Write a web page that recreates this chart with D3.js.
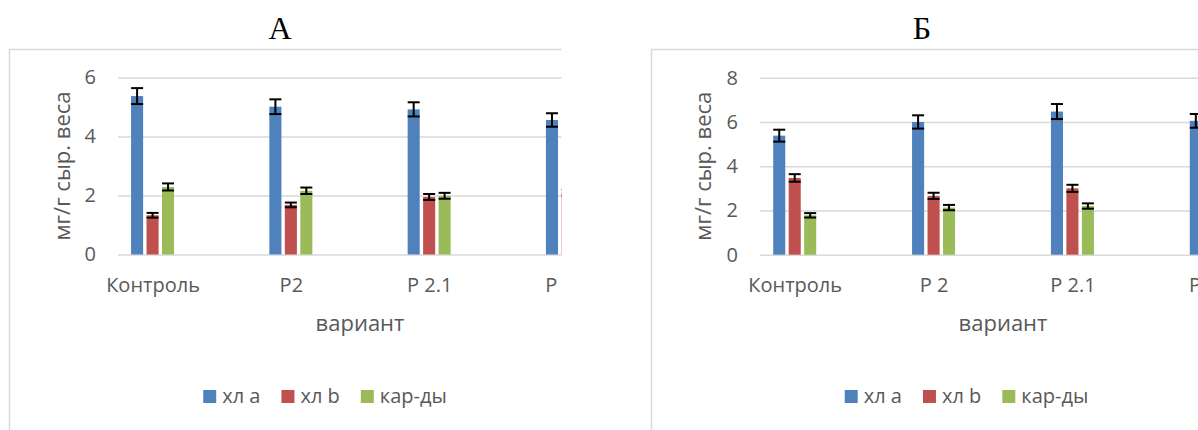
<!DOCTYPE html>
<html lang="ru">
<head>
<meta charset="UTF-8">
<title>Пигменты</title>
<script src="https://d3js.org/d3.v7.min.js"></script>
<style>
  body { margin: 0; background: #fff; }
  svg { display: block; }
  text { font-family: "Open Sans", "Noto Sans", sans-serif; fill: #595959; }
</style>
</head>
<body>
<svg id="chart" width="1198" height="430"></svg>
<script>
// categories (the 4th one is cut off by the picture edge)
const categories = ["Контроль", "P2", "P 2.1", "P 2.2"];
const categoriesB = ["Контроль", "P 2", "P 2.1", "P 2.2"];
const seriesNames = ["хл a", "хл b", "кар-ды"];
const seriesColors = ["#4f81bd", "#c0504d", "#9bbb59"];

// panel А, мг/г сыр. веса
const aChlA = [5.37, 5.01, 4.92, 4.56];
const aChlAErr = [0.27, 0.25, 0.24, 0.23];
const aChlB = [1.33, 1.68, 1.95, 2.10];
const aChlBErr = [0.08, 0.08, 0.10, 0.10];
const aCar = [2.29, 2.16, 1.99, 2.00];
const aCarErr = [0.12, 0.11, 0.10, 0.10];
const aTicks = [0, 2, 4, 6];

// panel Б
const bChlA = [5.38, 6.00, 6.47, 6.05];
const bChlAErr = [0.27, 0.30, 0.34, 0.31];
const bChlB = [3.47, 2.66, 3.00, 2.80];
const bChlBErr = [0.17, 0.14, 0.16, 0.15];
const bCar = [1.78, 2.13, 2.20, 2.20];
const bCarErr = [0.10, 0.12, 0.12, 0.12];
const bTicks = [0, 2, 4, 6, 8];

const svg = d3.select("#chart");

function drawPanel(p) {
  const g = svg.append("g");
  if (p.clip) {
    svg.append("clipPath").attr("id", p.id + "-clip")
      .append("rect").attr("x", 0).attr("y", 0).attr("width", p.clip).attr("height", 430);
    g.attr("clip-path", `url(#${p.id}-clip)`);
  }

  // chart frame
  g.append("rect")
    .attr("x", p.frameLeft + 0.5).attr("y", 49.5)
    .attr("width", p.frameRight - p.frameLeft).attr("height", 420)
    .attr("fill", "#fff").attr("stroke", "#d9d9d9").attr("stroke-width", 1.5);

  const plotW = p.plotRight - p.plotLeft;
  const y = d3.scaleLinear().domain([0, d3.max(p.ticks)]).range([p.y0, p.yTop]);

  // 7 slots, every second one empty -> point scale with padding 0.25
  const x = d3.scalePoint().domain(p.cats).range([p.plotLeft, p.plotRight]).padding(0.25);
  const x1 = d3.scaleBand().domain(seriesNames).range([-21.5, 21.5]).paddingInner(0.22);

  const yAxis = g.append("g")
    .attr("transform", `translate(${p.plotLeft},0)`)
    .call(d3.axisLeft(y).tickValues(p.ticks).tickFormat(d3.format("d")).tickSize(-plotW).tickPadding(22));
  yAxis.select(".domain").remove();
  yAxis.selectAll(".tick line").attr("stroke", "#d9d9d9").attr("stroke-width", 1.5);
  yAxis.selectAll(".tick text").attr("font-size", 20).attr("fill", "#595959");
  yAxis.attr("font-family", null).attr("font-size", null);

  const xAxis = g.append("g")
    .attr("transform", `translate(0,${p.y0})`)
    .call(d3.axisBottom(x).tickSize(0).tickPadding(23));
  xAxis.select(".domain").remove();
  xAxis.selectAll(".tick text").attr("font-size", 20).attr("fill", "#595959");
  xAxis.attr("font-family", null).attr("font-size", null);

  const rows = [];
  p.series.forEach((s, si) => {
    s.values.forEach((v, ci) => {
      rows.push({ cat: p.cats[ci], name: seriesNames[si], color: seriesColors[si], v: v, e: s.err[ci] });
    });
  });

  g.append("g").selectAll("rect").data(rows).join("rect")
    .attr("x", d => x(d.cat) + x1(d.name))
    .attr("y", d => y(d.v))
    .attr("width", x1.bandwidth())
    .attr("height", d => y(0) - y(d.v))
    .attr("fill", d => d.color);

  const err = g.append("g").attr("stroke", "#000").attr("stroke-width", 2);
  const eg = err.selectAll("g").data(rows).join("g")
    .attr("transform", d => `translate(${x(d.cat) + x1(d.name) + x1.bandwidth() / 2},0)`);
  eg.append("line").attr("y1", d => y(d.v - d.e)).attr("y2", d => y(d.v + d.e));
  eg.append("line").attr("x1", -6).attr("x2", 6).attr("y1", d => y(d.v + d.e)).attr("y2", d => y(d.v + d.e));
  eg.append("line").attr("x1", -6).attr("x2", 6).attr("y1", d => y(d.v - d.e)).attr("y2", d => y(d.v - d.e));

  // axis titles
  g.append("text")
    .attr("transform", `translate(${p.yTitleX},${(p.y0 + p.yTop) / 2}) rotate(-90)`)
    .attr("text-anchor", "middle").attr("font-size", 22)
    .text("мг/г сыр. веса");
  g.append("text")
    .attr("x", (p.plotLeft + p.plotRight) / 2).attr("y", 331)
    .attr("text-anchor", "middle").attr("font-size", 22)
    .text("вариант");

  // panel letter
  svg.append("text")
    .attr("x", p.titleX).attr("y", 39)
    .attr("text-anchor", "middle")
    .style("font-family", "'Liberation Serif', 'Times New Roman', serif")
    .style("fill", "#000").attr("font-size", 32)
    .text(p.title);

  // legend, centred on the frame
  const leg = g.append("g");
  const items = leg.selectAll("g").data(seriesNames).join("g");
  items.append("rect").attr("width", 13).attr("height", 13).attr("y", 390)
    .attr("fill", (d, i) => seriesColors[i]);
  items.append("text").attr("x", 19).attr("y", 403).attr("font-size", 20).text(d => d);
  let off = 0;
  items.each(function () {
    const w = 19 + d3.select(this).select("text").node().getComputedTextLength();
    d3.select(this).attr("transform", `translate(${off},0)`);
    off += w + 21;
  });
  const legW = off - 21;
  leg.attr("transform", `translate(${(p.frameLeft + p.frameRight) / 2 - legW / 2},0)`);
}

drawPanel({
  id: "a", title: "А", titleX: 280, clip: 561.5,
  frameLeft: 9, frameRight: 641,
  plotLeft: 118, plotRight: 602, y0: 254.5, yTop: 77.5, yTitleX: 70,
  ticks: aTicks, cats: categories,
  series: [{ values: aChlA, err: aChlAErr }, { values: aChlB, err: aChlBErr }, { values: aCar, err: aCarErr }]
});

drawPanel({
  id: "b", title: "Б", titleX: 922, clip: null,
  frameLeft: 651, frameRight: 1282,
  plotLeft: 760, plotRight: 1246, y0: 254.7, yTop: 77.7, yTitleX: 711,
  ticks: bTicks, cats: categoriesB,
  series: [{ values: bChlA, err: bChlAErr }, { values: bChlB, err: bChlBErr }, { values: bCar, err: bCarErr }]
});
</script>
</body>
</html>
